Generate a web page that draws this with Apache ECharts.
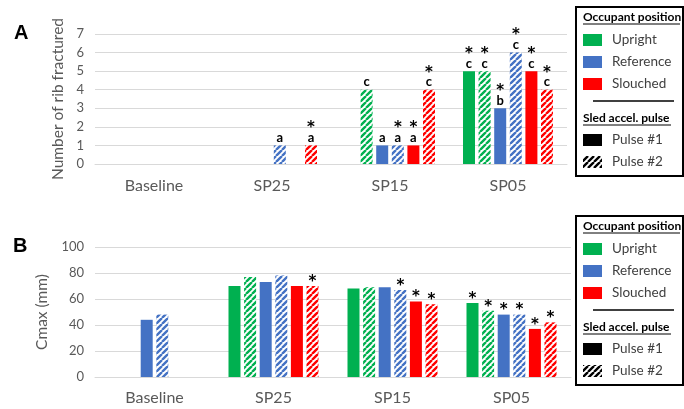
<!DOCTYPE html>
<html lang="en">
<head>
    <meta charset="UTF-8">
    <title>Rib fractures and Cmax</title>
    <script src="https://cdn.jsdelivr.net/npm/echarts@6/dist/echarts.min.js"></script>
</head>
<style>
    *{
        margin: 0;
        padding: 0;
    }
    html , body{
        width: 100%;
        height: 100%;
        overflow: hidden;
        background: #fff;
    }
    .container{
        width: 684px;
        height: 409px;
    }
</style>
<body>
<div class="container"></div>
<script>
    // categories
    const categories = ['Baseline', 'SP25', 'SP15', 'SP05'];

    // A: number of rib fractured
    const ribUprightP1 = [0, 0, 0, 5];
    const ribUprightP2 = [0, 0, 4, 5];
    const ribReferenceP1 = [0, 0, 1, 3];
    const ribReferenceP2 = [0, 1, 1, 6];
    const ribSlouchedP1 = [0, 0, 1, 5];
    const ribSlouchedP2 = [0, 1, 4, 4];
    // annotations above the bars
    const ribMarkUprightP1 = ['', '', '', '*\nc'];
    const ribMarkUprightP2 = ['', '', 'c', '*\nc'];
    const ribMarkReferenceP1 = ['', '', 'a', '*\nb'];
    const ribMarkReferenceP2 = ['', 'a', '*\na', '*\nc'];
    const ribMarkSlouchedP1 = ['', '', '*\na', '*\nc'];
    const ribMarkSlouchedP2 = ['', '*\na', '*\nc', '*\nc'];

    // B: Cmax (mm)
    const cmaxUprightP1 = [null, 70, 68, 57];
    const cmaxUprightP2 = [null, 77, 69, 51];
    const cmaxReferenceP1 = [44, 73, 69, 48];
    const cmaxReferenceP2 = [48, 78, 67, 48];
    const cmaxSlouchedP1 = [null, 70, 58, 37];
    const cmaxSlouchedP2 = [null, 70, 56, 42];
    const cmaxMarkUprightP1 = ['', '', '', '*'];
    const cmaxMarkUprightP2 = ['', '', '', '*'];
    const cmaxMarkReferenceP1 = ['', '', '', '*'];
    const cmaxMarkReferenceP2 = ['', '', '*', '*'];
    const cmaxMarkSlouchedP1 = ['', '', '*', '*'];
    const cmaxMarkSlouchedP2 = ['', '*', '*', '*'];

    const GREEN = '#00b050', BLUE = '#4472c4', RED = '#ff0000';
    const GRAY = '#595959';
    const FONT = 'Lato';

    // diagonal stripes for Pulse #2
    function hatch(color) {
        let c = document.createElement('canvas');
        c.width = c.height = 6;
        let g = c.getContext('2d');
        g.fillStyle = '#fff';
        g.fillRect(0, 0, 6, 6);
        g.strokeStyle = color;
        g.lineWidth = 2.4;
        g.beginPath();
        [-6, 0, 6].forEach(k => {
            g.moveTo(k, 6);
            g.lineTo(k + 6, 0);
        });
        g.stroke();
        return {image: c, repeat: 'repeat'};
    }

    function markText(m) {
        if (!m) return '';
        return m.split('\n').map(s => s == '*' ? '{s|*}' : '{l|' + s + '}').join('\n');
    }

    function bars(idx, data, marks, color, striped) {
        return {
            type: 'bar',
            xAxisIndex: idx,
            yAxisIndex: idx,
            data: data,
            barWidth: 12,
            barGap: '30%',
            itemStyle: {color: striped ? hatch(color) : color},
            label: {
                show: true,
                position: 'top',
                distance: 1,
                color: '#000',
                formatter: p => markText(marks[p.dataIndex]),
                rich: {
                    s: {fontFamily: 'DejaVu Sans', fontWeight: 'bold', fontSize: 15, lineHeight: 11, height: 11, padding: [5, 0, 0, 0]},
                    l: {fontFamily: FONT, fontWeight: 'bold', fontSize: 13, lineHeight: 13}
                }
            }
        };
    }

    let series = [
        bars(0, ribUprightP1, ribMarkUprightP1, GREEN, false),
        bars(0, ribUprightP2, ribMarkUprightP2, GREEN, true),
        bars(0, ribReferenceP1, ribMarkReferenceP1, BLUE, false),
        bars(0, ribReferenceP2, ribMarkReferenceP2, BLUE, true),
        bars(0, ribSlouchedP1, ribMarkSlouchedP1, RED, false),
        bars(0, ribSlouchedP2, ribMarkSlouchedP2, RED, true),
        bars(1, cmaxUprightP1, cmaxMarkUprightP1, GREEN, false),
        bars(1, cmaxUprightP2, cmaxMarkUprightP2, GREEN, true),
        bars(1, cmaxReferenceP1, cmaxMarkReferenceP1, BLUE, false),
        bars(1, cmaxReferenceP2, cmaxMarkReferenceP2, BLUE, true),
        bars(1, cmaxSlouchedP1, cmaxMarkSlouchedP1, RED, false),
        bars(1, cmaxSlouchedP2, cmaxMarkSlouchedP2, RED, true)
    ];

    function xAxis(idx, margin) {
        return {
            type: 'category',
            gridIndex: idx,
            data: categories,
            axisLine: {lineStyle: {color: '#d9d9d9'}},
            axisTick: {show: false},
            axisLabel: {color: GRAY, fontFamily: FONT, fontSize: 16, margin: margin}
        };
    }

    function yAxis(idx, max, interval, name, gap) {
        return {
            type: 'value',
            gridIndex: idx,
            min: 0,
            max: max,
            interval: interval,
            name: name,
            nameLocation: 'middle',
            nameRotate: 90,
            nameGap: gap,
            nameTextStyle: {color: GRAY, fontFamily: FONT, fontSize: 15.5},
            axisLabel: {color: GRAY, fontFamily: FONT, fontSize: 13, margin: 11},
            splitLine: {lineStyle: {color: '#d9d9d9'}}
        };
    }

    // legend box drawn with graphics
    function legendBox(top) {
        const items = [
            {name: 'Upright', fill: GREEN},
            {name: 'Reference', fill: BLUE},
            {name: 'Slouched', fill: RED}
        ];
        const pulses = [
            {name: 'Pulse #1', fill: '#000'},
            {name: 'Pulse #2', fill: hatch('#000')}
        ];
        let els = [{
            type: 'rect', left: 575, top: top,
            shape: {width: 107, height: 169},
            style: {fill: '#fff', stroke: '#000', lineWidth: 2}
        }];
        const heading = (text, y, w) => {
            els.push({type: 'text', x: 583, y: y, style: {
                text: text, fill: '#000', font: 'bold 12px ' + FONT, textVerticalAlign: 'middle'
            }});
            els.push({type: 'line', shape: {x1: 583, y1: y + 7, x2: 583 + w, y2: y + 7},
                style: {stroke: '#000', lineWidth: 1}});
        };
        const entry = (it, y) => {
            els.push({type: 'rect', shape: {x: 583, y: y - 6, width: 19, height: 12}, style: {fill: it.fill}});
            els.push({type: 'text', x: 612, y: y, style: {
                text: it.name, fill: '#404040', font: '13.5px ' + FONT, textVerticalAlign: 'middle'
            }});
        };
        heading('Occupant position', top + 11, 97);
        items.forEach((it, i) => entry(it, top + 34 + i * 22));
        els.push({type: 'line', shape: {x1: 593, y1: top + 95, x2: 674, y2: top + 95},
            style: {stroke: '#000', lineWidth: 1.5}});
        heading('Sled accel. pulse', top + 112, 88);
        pulses.forEach((it, i) => entry(it, top + 134 + i * 22));
        return els;
    }

    let container = document.querySelector('.container');
    let mycharts = echarts.init(container);

    let option = {
        animation: false,
        backgroundColor: '#fff',
        grid: [
            {left: 95, top: 34, width: 472, height: 130},
            {left: 95, top: 247, width: 476, height: 130}
        ],
        xAxis: [xAxis(0, 14), xAxis(1, 13)],
        yAxis: [yAxis(0, 7, 1, 'Number of rib fractured', 28), yAxis(1, 100, 20, 'Cmax (mm)', 36)],
        graphic: [
            {type: 'text', left: 14, top: 23, style: {text: 'A', fill: '#000', font: 'bold 20px Liberation Sans'}},
            {type: 'text', left: 13, top: 236, style: {text: 'B', fill: '#000', font: 'bold 20px Liberation Sans'}}
        ].concat(legendBox(6), legendBox(215)),
        series
    };
    mycharts.setOption(option);
</script>
</body>
</html>
